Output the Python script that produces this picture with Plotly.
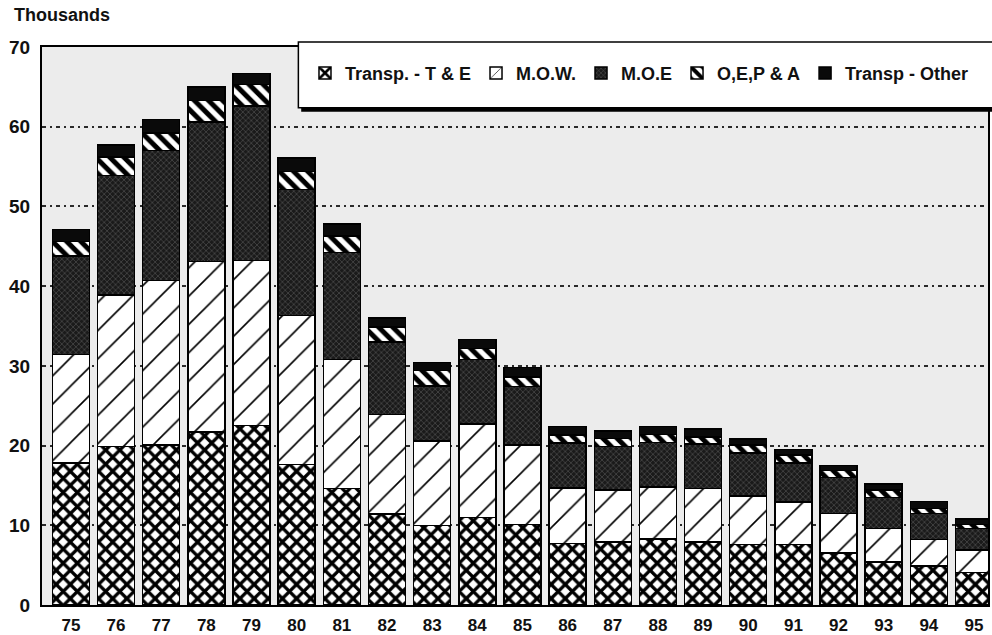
import plotly.graph_objects as go

years = ['75', '76', '77', '78', '79', '80', '81', '82', '83', '84', '85',
         '86', '87', '88', '89', '90', '91', '92', '93', '94', '95']

transp_te = [17.8, 19.9, 20.1, 21.7, 22.5, 17.6, 14.6, 11.4, 10.0, 11.0, 10.1,
             7.7, 7.9, 8.3, 7.9, 7.6, 7.6, 6.5, 5.4, 4.9, 4.1]
mow = [13.6, 19.0, 20.6, 21.4, 20.7, 18.7, 16.2, 12.5, 10.6, 11.7, 10.0,
       7.0, 6.5, 6.5, 6.7, 6.1, 5.3, 5.0, 4.2, 3.3, 2.8]
moe = [12.4, 15.0, 16.3, 17.5, 19.4, 15.8, 13.4, 9.1, 6.9, 8.1, 7.3,
       5.6, 5.5, 5.6, 5.6, 5.4, 4.9, 4.5, 3.9, 3.3, 2.7]
oepa = [1.8, 2.3, 2.2, 2.7, 2.7, 2.3, 2.1, 1.9, 1.9, 1.4, 1.2,
        1.0, 1.0, 1.0, 0.9, 1.0, 1.0, 0.9, 0.9, 0.6, 0.5]
transp_other = [1.5, 1.5, 1.7, 1.7, 1.4, 1.7, 1.5, 1.1, 1.0, 1.1, 1.2,
                1.1, 0.9, 1.0, 1.0, 0.7, 0.7, 0.6, 0.8, 0.9, 0.7]

y_ticks = [0, 10, 20, 30, 40, 50, 60, 70]

FONT = "Liberation Sans, Arial, sans-serif"
line = dict(color="#000000", width=1.5)

fig = go.Figure()
fig.add_trace(go.Bar(
    name="Transp. - T & E", x=years, y=transp_te,
    marker=dict(color="white", line=line,
                pattern=dict(shape="x", fgcolor="#000000", bgcolor="white",
                             size=10, solidity=0.55, fillmode="replace")),
))
fig.add_trace(go.Bar(
    name="M.O.W.", x=years, y=mow,
    marker=dict(color="white", line=line,
                pattern=dict(shape="/", fgcolor="#000000", bgcolor="white",
                             size=20, solidity=0.08, fillmode="replace")),
))
fig.add_trace(go.Bar(
    name="M.O.E", x=years, y=moe,
    marker=dict(color="#222222", line=line,
                pattern=dict(shape="x", fgcolor="#5e5e5e", bgcolor="#1a1a1a",
                             size=4, solidity=0.25, fillmode="replace")),
))
fig.add_trace(go.Bar(
    name="O,E,P & A", x=years, y=oepa,
    marker=dict(color="white", line=line,
                pattern=dict(shape="\\", fgcolor="#000000", bgcolor="white",
                             size=10, solidity=0.5, fillmode="replace")),
))
fig.add_trace(go.Bar(
    name="Transp - Other", x=years, y=transp_other,
    marker=dict(color="#0a0a0a", line=line),
))

# legend box (white frame with a shadow)
fig.add_shape(type="rect", xref="paper", yref="paper",
              x0=0.274, x1=1.02, y0=0.884, y1=1.004,
              fillcolor="#000000", line=dict(width=0), layer="above")
fig.add_shape(type="rect", xref="paper", yref="paper",
              x0=0.271, x1=1.02, y0=0.891, y1=1.009,
              fillcolor="white", line=dict(color="#000000", width=1.5),
              layer="above")

fig.add_annotation(text="<b>Thousands</b>", xref="paper", yref="paper",
                   x=-0.032, y=1.036, xanchor="left", yanchor="bottom",
                   showarrow=False, font=dict(family=FONT, size=18, color="#111111"))

fig.update_layout(
    width=992, height=635,
    margin=dict(l=42, r=4, t=47, b=30, autoexpand=False),
    barmode="stack",
    bargap=0.18,
    paper_bgcolor="white",
    plot_bgcolor="#ececec",
    font=dict(family=FONT, color="#111111"),
    showlegend=True,
    legend=dict(
        orientation="h", traceorder="normal",
        x=0.278, xanchor="left", y=0.953, yanchor="middle",
        bgcolor="rgba(0,0,0,0)", borderwidth=0,
        font=dict(family=FONT, size=18, color="#111111", weight="bold"),
        itemwidth=30,
    ),
    xaxis=dict(
        type="category", range=[-0.64, 20.31], automargin=False,
        showline=True, linecolor="#000000", linewidth=2, mirror=True,
        ticks="", showgrid=False,
        tickfont=dict(family=FONT, size=17, color="#111111", weight="bold"),
        ticklabelstandoff=4,
    ),
    yaxis=dict(
        range=[0, 70], tickmode="array", tickvals=y_ticks, automargin=False,
        showline=True, linecolor="#000000", linewidth=2, mirror=True,
        ticks="", showgrid=True, gridcolor="#2a2a2a", gridwidth=1.5,
        griddash="4px,4px,2px,4px", zeroline=False,
        tickfont=dict(family=FONT, size=19, color="#111111", weight="bold"),
        ticklabelstandoff=6,
    ),
)

fig.write_html(
    "out.html",
    config={"displayModeBar": False},
    post_script="document.body.style.margin='0';document.body.style.overflow='hidden';",
)
